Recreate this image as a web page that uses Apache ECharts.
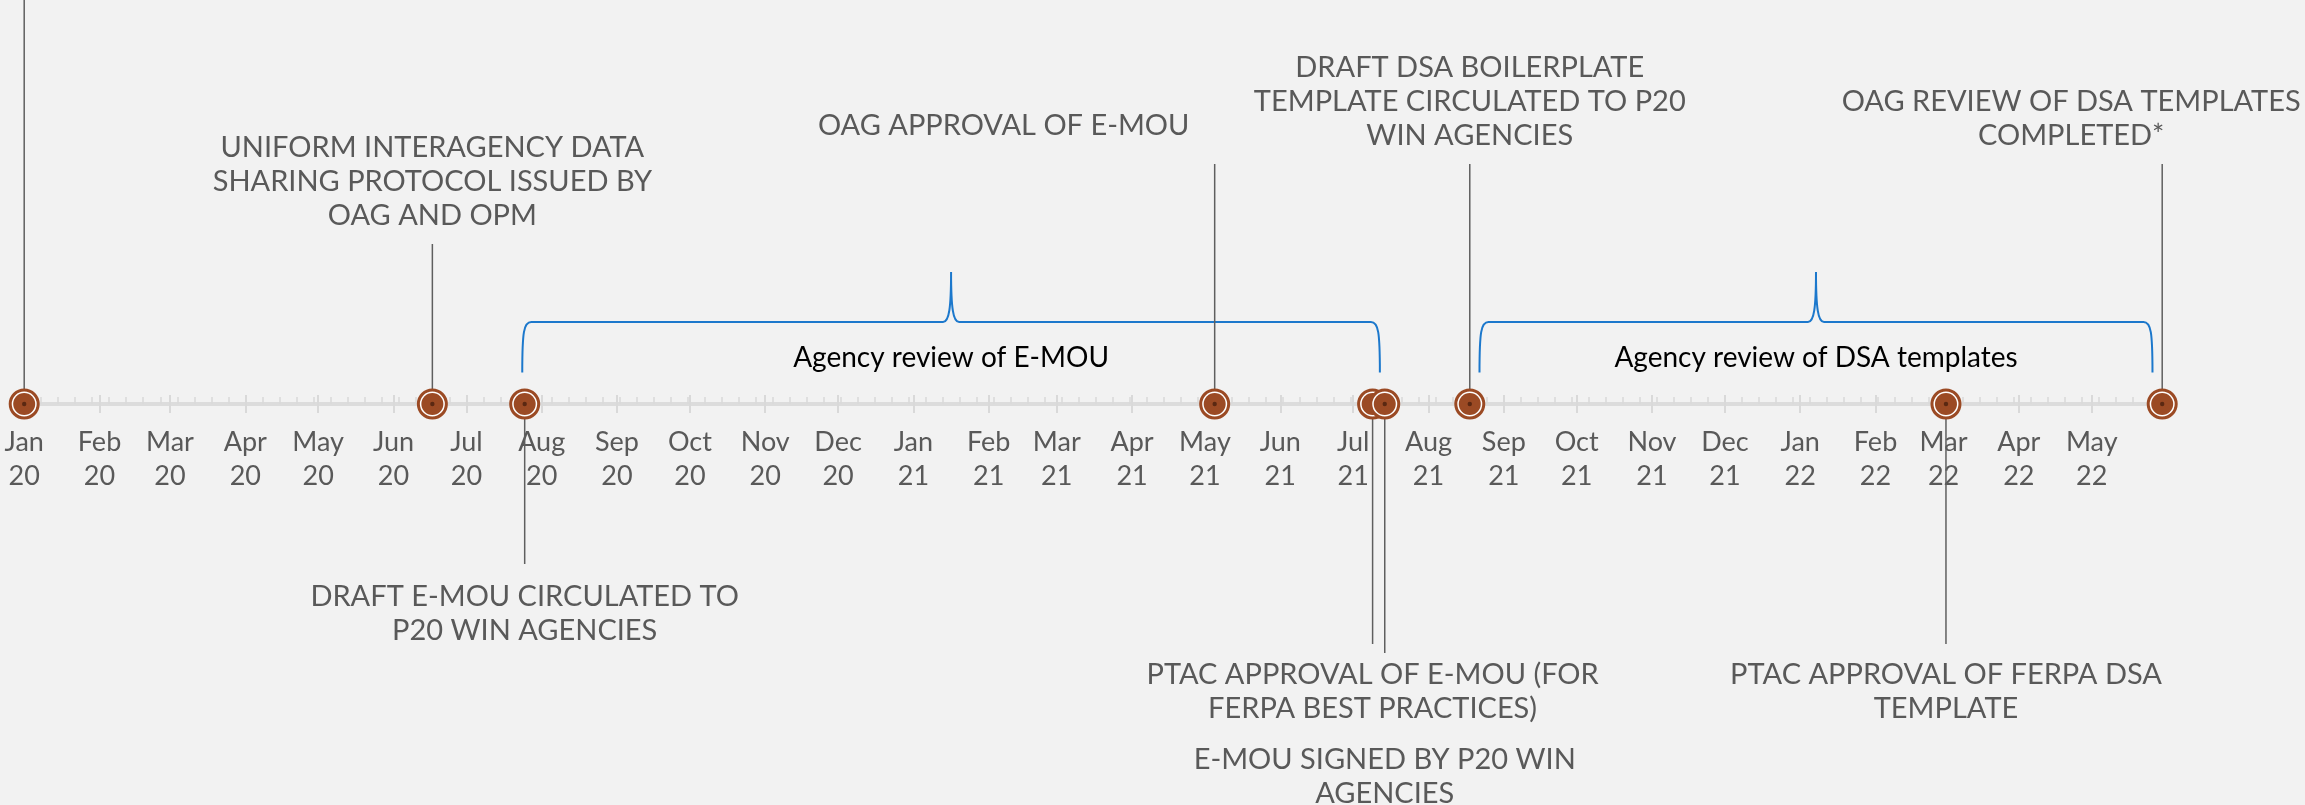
<!DOCTYPE html>
<html>
<head>
<meta charset="utf-8">
<script src="https://cdn.jsdelivr.net/npm/echarts@6/dist/echarts.min.js"></script>
<style>
  html, body { margin: 0; padding: 0; background: #f2f2f2; }
  #chart { width: 2305px; height: 805px; }
</style>
</head>
<body>
<div id="chart"></div>
<script>
// ---------------- DATA ----------------
const axisStart = '2020-01-01';
const axisEnd = '2022-05-30';
const monthNames = ['Jan','Feb','Mar','Apr','May','Jun','Jul','Aug','Sep','Oct','Nov','Dec'];

const eventDates = ['2020-01-01','2020-06-17','2020-07-25','2021-05-05','2021-07-09','2021-07-14','2021-08-18','2022-03-02','2022-05-30'];
const eventLabels = [
  '',
  'UNIFORM INTERAGENCY DATA\nSHARING PROTOCOL ISSUED BY\nOAG AND OPM',
  'DRAFT E-MOU CIRCULATED TO\nP20 WIN AGENCIES',
  'OAG APPROVAL OF E-MOU',
  'PTAC APPROVAL OF E-MOU (FOR\nFERPA BEST PRACTICES)',
  'E-MOU SIGNED BY P20 WIN\nAGENCIES',
  'DRAFT DSA BOILERPLATE\nTEMPLATE CIRCULATED TO P20\nWIN AGENCIES',
  'PTAC APPROVAL OF FERPA DSA\nTEMPLATE',
  'OAG REVIEW OF DSA TEMPLATES\nCOMPLETED*'
];

const braceStarts = ['2020-07-24','2021-08-22'];
const braceEnds = ['2021-07-12','2022-05-26'];
const braceLabels = ['Agency review of E-MOU','Agency review of DSA templates'];

// ---------------- LAYOUT (px) ----------------
const stemLengths = [420, 160, -160, 240, -240, -249, 240, -240, 240];
const labelOffsetX = [0, 0, 0, -211, 0, 0, 0, 0, -91];
const labelGaps = [0, 11, 16, 21, 14, 90, 11, 14, 11];

// ---------------- HELPERS ----------------
const DAY = 86400000;
function toTime(s) { const p = s.split('-').map(Number); return new Date(p[0], p[1] - 1, p[2]).getTime(); }
const tMin = toTime(axisStart), tMax = toTime(axisEnd);
function toDay(s) { return Math.round((toTime(s) - tMin) / DAY); }
const dMax = toDay(axisEnd);

const monthTicks = [];
{
  const d0 = new Date(tMin);
  let y = d0.getFullYear(), m = d0.getMonth();
  while (true) {
    const t = new Date(y, m, 1).getTime();
    if (t > tMax) break;
    monthTicks.push(Math.round((t - tMin) / DAY));
    m++; if (m > 11) { m = 0; y++; }
  }
}
const weekTicks = [];
for (let d = 0; d <= dMax; d += 7) weekTicks.push(d);

const BROWN = '#9b4a24', DARK = '#5a2812', TXT = '#595959', FONT = 'Lato';

const eventData = eventDates.map(d => [toDay(d), 0]);
const braceData = braceStarts.map((s, i) => [toDay(s), toDay(braceEnds[i]), 0]);

const chart = echarts.init(document.getElementById('chart'), null, { renderer: 'canvas' });
chart.setOption({
  backgroundColor: '#f2f2f2',
  animation: false,
  grid: { left: 24.2, right: 142.8, top: 0, bottom: 401, outerBoundsMode: 'none', containLabel: false },
  xAxis: [
    {
      type: 'value', min: 0, max: dMax, position: 'bottom', offset: -9,
      axisLine: { show: false, onZero: false },
      axisTick: { show: true, customValues: monthTicks, length: 18, lineStyle: { color: '#d9d9d9', width: 2 } },
      axisLabel: {
        show: true, customValues: monthTicks, margin: 30,
        color: TXT, fontFamily: FONT, fontSize: 27, lineHeight: 34,
        formatter: function (v) {
          const d = new Date(tMin + v * DAY + DAY / 2);
          return monthNames[d.getMonth()] + '\n' + String(d.getFullYear()).slice(2);
        }
      },
      splitLine: { show: false }
    },
    {
      type: 'value', min: 0, max: dMax, position: 'bottom', offset: 0,
      axisLine: { show: true, onZero: false, lineStyle: { color: '#dcdcdc', width: 4 } },
      axisTick: { show: true, inside: true, customValues: weekTicks, length: 7, lineStyle: { color: '#d9d9d9', width: 1.5 } },
      axisLabel: { show: false },
      splitLine: { show: false }
    }
  ],
  yAxis: { type: 'value', min: 0, max: 1, show: false },
  series: [
    {
      type: 'custom', xAxisIndex: 0, yAxisIndex: 0, z: 5,
      encode: { x: [0, 1], y: 2 },
      data: braceData,
      renderItem: function (params, api) {
        const i = params.dataIndex;
        const p1 = api.coord([api.value(0), 0]);
        const p2 = api.coord([api.value(1), 0]);
        const x1 = p1[0], x2 = p2[0], y0 = p1[1];
        const yEnd = y0 - 31.6, yH = y0 - 82, yPk = y0 - 132;
        const xm = (x1 + x2) / 2;
        const path =
          'M' + x1 + ',' + yEnd +
          ' C' + x1 + ',' + (yH + 10) + ' ' + (x1 + 1.5) + ',' + yH + ' ' + (x1 + 9) + ',' + yH +
          ' L' + (xm - 8) + ',' + yH +
          ' C' + (xm - 2) + ',' + yH + ' ' + xm + ',' + (yH - 14) + ' ' + xm + ',' + yPk +
          ' C' + xm + ',' + (yH - 14) + ' ' + (xm + 2) + ',' + yH + ' ' + (xm + 8) + ',' + yH +
          ' L' + (x2 - 9) + ',' + yH +
          ' C' + (x2 - 1.5) + ',' + yH + ' ' + x2 + ',' + (yH + 10) + ' ' + x2 + ',' + yEnd;
        return {
          type: 'group',
          children: [
            { type: 'path', shape: { pathData: path }, style: { stroke: '#1c78cc', lineWidth: 2, fill: null } },
            { type: 'text', style: { text: braceLabels[i], x: xm, y: y0 - 46, align: 'center', verticalAlign: 'middle',
              fill: '#000000', fontFamily: FONT, fontSize: 28 } }
          ]
        };
      }
    },
    {
      type: 'custom', xAxisIndex: 0, yAxisIndex: 0, z: 10,
      encode: { x: 0, y: 1 },
      data: eventData,
      renderItem: function (params, api) {
        const i = params.dataIndex;
        const p = api.coord([api.value(0), 0]);
        const x = p[0], y = p[1];
        const stem = stemLengths[i];
        const yEnd = y - stem;
        const children = [
          { type: 'line', shape: { x1: x, y1: y, x2: x, y2: yEnd }, style: { stroke: '#5f5f5f', lineWidth: 1.5 } }
        ];
        if (eventLabels[i]) {
          const up = stem > 0;
          children.push({
            type: 'text',
            style: {
              text: eventLabels[i], x: x + labelOffsetX[i],
              y: up ? yEnd - labelGaps[i] : yEnd + labelGaps[i],
              align: 'center', verticalAlign: up ? 'bottom' : 'top',
              fill: TXT, fontFamily: FONT, fontSize: 29, lineHeight: 34
            }
          });
        }
        children.push(
          { type: 'circle', shape: { cx: x, cy: y, r: 14 }, style: { fill: '#ffffff', stroke: BROWN, lineWidth: 3 } },
          { type: 'circle', shape: { cx: x, cy: y, r: 11 }, style: { fill: BROWN } },
          { type: 'circle', shape: { cx: x, cy: y, r: 2.2 }, style: { fill: DARK } }
        );
        return { type: 'group', children: children };
      }
    }
  ]
});
</script>
</body>
</html>
